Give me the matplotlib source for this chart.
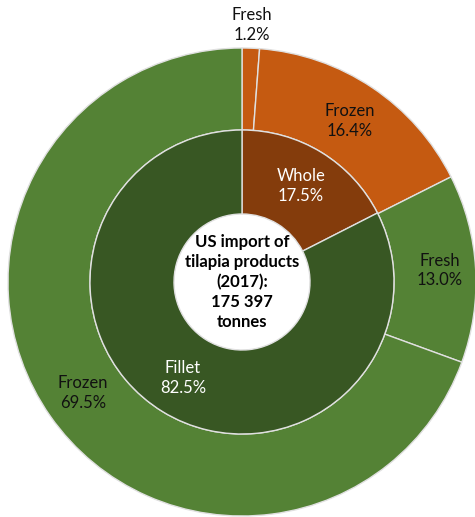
import numpy as np
import matplotlib.pyplot as plt

# product form (inner ring) and fresh/frozen split (outer ring), % of tonnage
inner_labels = ['Whole', 'Fillet']
inner_values = [17.5, 82.5]
outer_labels = ['Fresh', 'Frozen', 'Fresh', 'Frozen']
outer_values = [1.2, 16.4, 13.0, 69.5]

inner_colors = ['#843C0C', '#385723']
outer_colors = ['#C55A11', '#C55A11', '#548235', '#548235']

plt.rcParams['font.family'] = ['Lato', 'DejaVu Sans']

fig = plt.figure(figsize=(4.75, 5.17), dpi=100)
ax = fig.add_axes([0, 0, 1, 1])

cx, cy = 242, 235
r_out, r_mid, r_in = 234, 152, 68
edge = dict(edgecolor='#e0e0e0', linewidth=1)

ax.pie(outer_values, radius=r_out, center=(cx, cy), colors=outer_colors,
       startangle=90, counterclock=False, frame=True,
       wedgeprops=dict(width=r_out - r_mid, **edge))
ax.pie(inner_values, radius=r_mid, center=(cx, cy), colors=inner_colors,
       startangle=90, counterclock=False, frame=True,
       wedgeprops=dict(width=r_mid - r_in, **edge))
ax.set_xlim(0, 475)
ax.set_ylim(0, 517)
ax.set_aspect('equal')
ax.axis('off')


def put_labels(labels, values, dist, color, overrides={}):
    total = sum(values)
    start = 0
    for i, (lab, val) in enumerate(zip(labels, values)):
        mid = (start + val / 2) / total * 2 * np.pi
        start += val
        r = overrides.get(i, dist)
        x = cx + r * np.sin(mid)
        y = cy + r * np.cos(mid)
        ax.text(x, y, '%s\n%.1f%%' % (lab, val), ha='center', va='center',
                fontsize=12, color=color, linespacing=1.3)


put_labels(outer_labels, outer_values, 194, '#111111', {0: 257, 2: 198})
put_labels(inner_labels, inner_values, 113, 'white')

ax.text(cx, cy, 'US import of\ntilapia products\n(2017):\n175 397\ntonnes',
        ha='center', va='center', fontsize=12, fontweight='bold',
        color='black', linespacing=1.3)

fig.savefig('out.png', dpi=100)
